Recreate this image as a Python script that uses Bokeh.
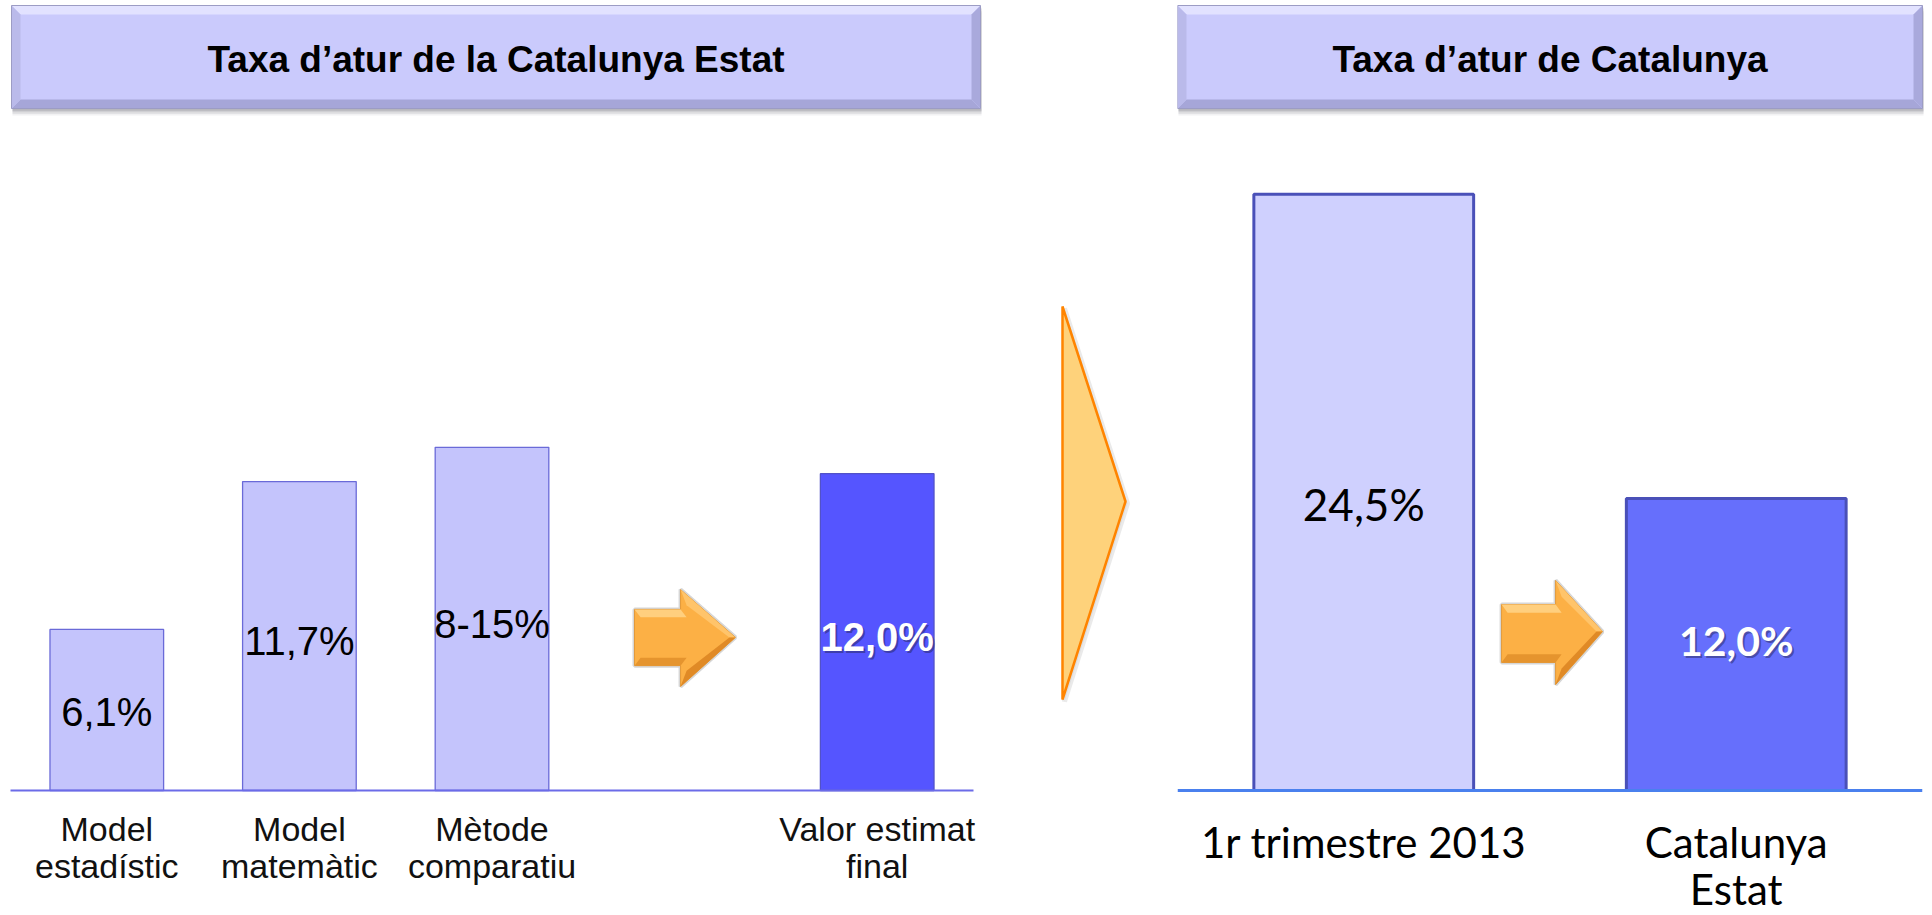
from bokeh.plotting import figure
from bokeh.models import Range1d, FactorRange, Span
from bokeh.layouts import row, column
from bokeh.core.properties import value
from bokeh.embed import file_html
from bokeh.resources import INLINE

# ---------------- data ----------------
left_title = "Taxa d’atur de la Catalunya Estat"
left_categories = ["Model estadístic", "Model matemàtic", "Mètode comparatiu", "Valor estimat final"]
left_tick_labels = ["Model\nestadístic", "Model\nmatemàtic", "Mètode\ncomparatiu", "Valor estimat\nfinal"]
left_values = [6.1, 11.7, 13.0, 12.0]
left_value_labels = ["6,1%", "11,7%", "8-15%", "12,0%"]

right_title = "Taxa d’atur de Catalunya"
right_categories = ["1r trimestre 2013", "Catalunya Estat"]
right_tick_labels = ["1r trimestre 2013", "Catalunya\nEstat"]
right_values = [24.5, 12.0]
right_value_labels = ["24,5%", "12,0%"]

ARIAL = value("Liberation Sans")
CALIBRI = value("Lato")

HDR_H = 140
CH_H = 775


def base(w, h, xr, yr, **kw):
    p = figure(width=w, height=h, x_range=xr, y_range=yr, output_backend="svg",
               toolbar_location=None, x_axis_location=None, y_axis_location=None,
               min_border=0, outline_line_color=None, frame_align=False, **kw)
    p.background_fill_color = "white"
    p.border_fill_color = "white"
    p.grid.visible = False
    return p


def header(w, x0, x1, title):
    p = base(w, HDR_H, Range1d(0, w), Range1d(HDR_H, 0))
    y0, y1, b = 5, 108, 9
    # soft shadow
    for i, a in enumerate([0.08, 0.10, 0.14, 0.2]):
        d = 7 - i * 1.6
        p.quad(left=x0 + 1, right=x1 + 1, top=y0 + d, bottom=y1 + d,
               fill_color="#5a5a6a", fill_alpha=a, line_color=None)
    p.quad(left=x0, right=x1, top=y0, bottom=y1, fill_color="#cacafc", line_color=None)
    xs = [[x0, x1, x1 - b, x0 + b], [x0, x1, x1 - b, x0 + b],
          [x0, x0 + b, x0 + b, x0], [x1, x1 - b, x1 - b, x1]]
    ys = [[y0, y0, y0 + b, y0 + b], [y1, y1, y1 - b, y1 - b],
          [y0, y0 + b, y1 - b, y1], [y0, y0 + b, y1 - b, y1]]
    p.patches(xs=xs, ys=ys, fill_color=["#e2e2ff", "#a6a6d8", "#babaea", "#a9a9dc"],
              line_color=None)
    p.quad(left=x0, right=x1, top=y0, bottom=y1, fill_color=None,
           line_color="#9c9cc4", line_width=1)
    p.text(x=[(x0 + x1) / 2], y=[(y0 + y1) / 2 + 2], text=[title], text_align="center",
           text_baseline="middle", text_font=ARIAL, text_font_style="bold",
           text_font_size=value("37px"), text_color="black")
    return p


def arrow(p, x0, xm, x1, yh_top, ys_top, ys_bot, yh_bot, ytip):
    xs = [x0, xm, xm, x1, xm, xm, x0]
    ys = [ys_top, ys_top, yh_top, ytip, yh_bot, ys_bot, ys_bot]
    p.patch(x=xs, y=ys, fill_alpha=0.0, line_color="#bbbbbb", line_alpha=0.6, line_width=4)
    p.patch(x=xs, y=ys, fill_color="#fcb045", line_color="#e39a3a", line_width=1)
    dy = (ys_top - ys_bot) * 0.14
    dx = (x1 - x0) * 0.06
    p.patch(x=[x0, xm, xm + dx, x0 + dx], y=[ys_top, ys_top, ys_top - dy, ys_top - dy],
            fill_color="#ffcf7e", line_color=None)
    p.patch(x=[xm, x1, x1 - dx, xm + dx], y=[yh_top, ytip, ytip, yh_top - 2 * dy],
            fill_color="#ffc46a", line_color=None)
    p.patch(x=[x0, xm, xm + dx, x0 + dx], y=[ys_bot, ys_bot, ys_bot + dy, ys_bot + dy],
            fill_color="#e5942e", line_color=None)
    p.patch(x=[xm, x1, x1 - dx, xm + dx], y=[yh_bot, ytip, ytip, yh_bot + 2 * dy],
            fill_color="#e08a26", line_color=None)


# ---------------- left panel ----------------
hdrL = header(1000, 11, 980, left_title)

kL = 26.4  # pixels per percentage point
left_factors = left_categories[:3] + [" "] + left_categories[3:]   # blank slot holds the arrow
n_left = len(left_factors)
pad_units = 10 / 192.6                                             # small margin of the frame
chartL = base(1000, CH_H,
              FactorRange(*left_factors, range_padding=2 * pad_units / n_left),
              Range1d(-125 / kL, 650 / kL), min_border_left=0, min_border_right=17)
chartL.vbar(x=left_categories, top=left_values, width=0.59,
            fill_color=["#c4c4fc", "#c4c4fc", "#c4c4fc", "#5555ff"],
            line_color=["#6a6ad8", "#6a6ad8", "#6a6ad8", "#5252c8"], line_width=1.3)
chartL.segment(x0=[0], y0=[0], x1=[n_left], y1=[0], line_color="#6b6be8", line_width=2)
chartL.text(x=left_categories[:3], y=[v * 0.485 for v in left_values[:3]], text=left_value_labels[:3],
            text_align="center", text_baseline="middle", text_font=ARIAL,
            text_font_size=value("40px"), text_color="black")
chartL.text(x=left_categories[3:], y=[v * 0.485 for v in left_values[3:]], text=left_value_labels[3:],
            text_align="center", text_baseline="middle", text_font=ARIAL, text_font_style="bold",
            text_font_size=value("40px"), text_color="#222244", text_alpha=0.45, x_offset=2, y_offset=2)
chartL.text(x=left_categories[3:], y=[v * 0.485 for v in left_values[3:]], text=left_value_labels[3:],
            text_align="center", text_baseline="middle", text_font=ARIAL, text_font_style="bold",
            text_font_size=value("40px"), text_color="white")
chartL.text(x=left_categories, y=[-0.75] * 4, text=left_tick_labels, text_align="center",
            text_baseline="top", text_font=ARIAL, text_font_size=value("34px"),
            text_line_height=0.97, text_color="#111111")
arrow(chartL, 3.240, 3.479, 3.764, 7.61, 6.86, 4.73, 3.94, 5.80)

# ---------------- middle big chevron ----------------
mid = base(177, HDR_H + CH_H, Range1d(0, 177), Range1d(HDR_H + CH_H, 0))
mid.patch(x=[64, 127, 64], y=[308, 503, 701], fill_color="#bbbbbb", fill_alpha=0.25,
          line_color="#bbbbbb", line_alpha=0.3, line_width=5)
mid.patch(x=[62, 125, 62], y=[306, 501, 699], fill_color="#fed27b",
          line_color="#ff8400", line_width=2.5)

# ---------------- right panel ----------------
hdrR = header(752, 0, 745, right_title)

kR = 24.34
chartR = base(752, CH_H, FactorRange(*right_categories, range_padding=0),
              Range1d(-125 / kR, 650 / kR), min_border_left=0, min_border_right=7)
chartR.vbar(x=right_categories, top=right_values, width=0.59,
            fill_color=["#cfd0fe", "#666ffc"], line_color="#4a50b8", line_width=3)
chartR.add_layout(Span(location=0, dimension="width", line_color="#4a80ee", line_width=3))
chartR.text(x=right_categories[:1], y=[v * 0.48 for v in right_values[:1]], text=right_value_labels[:1],
            text_align="center", text_baseline="middle", text_font=CALIBRI,
            text_font_size=value("44px"), text_color="black")
chartR.text(x=right_categories[1:], y=[v * 0.515 for v in right_values[1:]], text=right_value_labels[1:],
            text_align="center", text_baseline="middle", text_font=CALIBRI, text_font_style="bold",
            text_font_size=value("41px"), text_color="#222244", text_alpha=0.45, x_offset=2, y_offset=2)
chartR.text(x=right_categories[1:], y=[v * 0.515 for v in right_values[1:]], text=right_value_labels[1:],
            text_align="center", text_baseline="middle", text_font=CALIBRI, text_font_style="bold",
            text_font_size=value("41px"), text_color="white")
chartR.text(x=right_categories, y=[-1.08] * 2, text=right_tick_labels, text_align="center",
            text_baseline="top", text_font=CALIBRI, text_font_size=value("42px"),
            text_line_height=0.95, text_color="black")
arrow(chartR, 0.870, 1.015, 1.141, 8.63, 7.64, 5.26, 4.35, 6.53)

layout = row(column(hdrL, chartL, spacing=0), mid, column(hdrR, chartR, spacing=0), spacing=0)

open("out.html", "w").write(file_html(layout, INLINE))
